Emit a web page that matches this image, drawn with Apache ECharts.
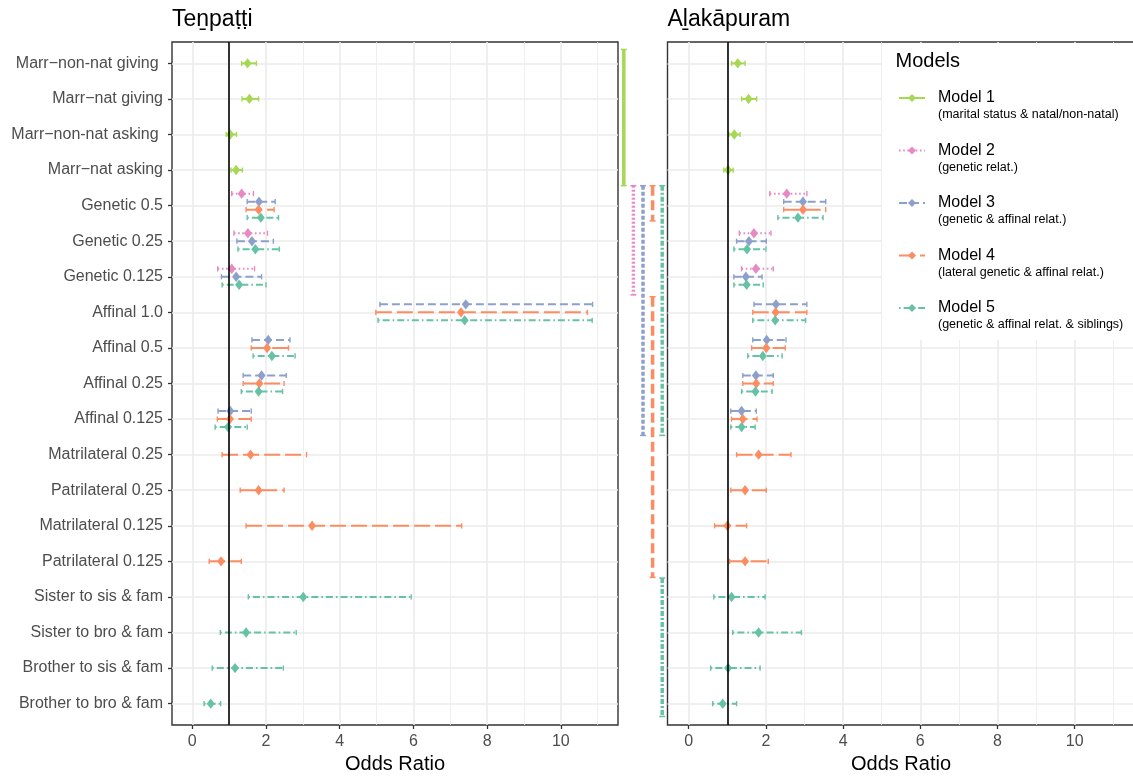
<!DOCTYPE html>
<html><head><meta charset="utf-8">
<script src="https://cdn.jsdelivr.net/npm/echarts@6/dist/echarts.min.js"></script>
<style>html,body{margin:0;padding:0;background:#fff}#c{width:1133px;height:776px}</style>
</head><body><div id="c"></div>
<script>
// ---------- data ----------
const categories = [
  'Marr\u2212non-nat giving ', 'Marr\u2212nat giving', 'Marr\u2212non-nat asking ', 'Marr\u2212nat asking',
  'Genetic 0.5', 'Genetic 0.25', 'Genetic 0.125',
  'Affinal 1.0', 'Affinal 0.5', 'Affinal 0.25', 'Affinal 0.125',
  'Matrilateral 0.25', 'Patrilateral 0.25', 'Matrilateral 0.125', 'Patrilateral 0.125',
  'Sister to sis & fam', 'Sister to bro & fam', 'Brother to sis & fam', 'Brother to bro & fam'
];
const xTicks = [0, 2, 4, 6, 8, 10];
const xMinorTicks = [1, 3, 5, 7, 9, 11];
const panelTitles = ['Te\u1E49pa\u1E6D\u1E6Di', 'A\u1E3Bak\u0101puram'];
const modelNames = ['Model 1', 'Model 2', 'Model 3', 'Model 4', 'Model 5'];
const modelNotes = ['(marital status & natal/non-natal)', '(genetic relat.)', '(genetic & affinal relat.)',
  '(lateral genetic & affinal relat.)', '(genetic & affinal relat. & siblings)'];
const modelColors = ['#A6D854', '#E78AC3', '#8DA0CB', '#FC8D62', '#66C2A5'];

// [row, odds ratio, lower, upper]  -- Tenpatti
const tenM1 = [['Marr\u2212non-nat giving ', 1.50, 1.34, 1.74], ['Marr\u2212nat giving', 1.55, 1.35, 1.80],
  ['Marr\u2212non-nat asking ', 1.03, 0.92, 1.20], ['Marr\u2212nat asking', 1.19, 1.05, 1.36]];
const tenM2 = [['Genetic 0.5', 1.34, 1.07, 1.66], ['Genetic 0.25', 1.51, 1.13, 2.04], ['Genetic 0.125', 1.07, 0.69, 1.69]];
const tenM3 = [['Genetic 0.5', 1.81, 1.49, 2.25], ['Genetic 0.25', 1.62, 1.21, 2.20], ['Genetic 0.125', 1.19, 0.79, 1.88],
  ['Affinal 1.0', 7.42, 5.09, 10.86], ['Affinal 0.5', 2.06, 1.62, 2.65], ['Affinal 0.25', 1.88, 1.38, 2.55],
  ['Affinal 0.125', 1.03, 0.70, 1.60]];
const tenM4 = [['Genetic 0.5', 1.80, 1.46, 2.22], ['Affinal 1.0', 7.29, 4.98, 10.72], ['Affinal 0.5', 2.03, 1.60, 2.61],
  ['Affinal 0.25', 1.82, 1.38, 2.49], ['Affinal 0.125', 1.02, 0.68, 1.60], ['Matrilateral 0.25', 1.58, 0.81, 3.10],
  ['Patrilateral 0.25', 1.80, 1.30, 2.49], ['Matrilateral 0.125', 3.25, 1.46, 7.31], ['Patrilateral 0.125', 0.78, 0.46, 1.33]];
const tenM5 = [['Genetic 0.5', 1.86, 1.49, 2.34], ['Genetic 0.25', 1.71, 1.24, 2.36], ['Genetic 0.125', 1.27, 0.81, 2.00],
  ['Affinal 1.0', 7.39, 5.04, 10.85], ['Affinal 0.5', 2.16, 1.65, 2.79], ['Affinal 0.25', 1.80, 1.33, 2.45],
  ['Affinal 0.125', 0.97, 0.62, 1.49], ['Sister to sis & fam', 3.01, 1.52, 5.94], ['Sister to bro & fam', 1.46, 0.76, 2.82],
  ['Brother to sis & fam', 1.16, 0.54, 2.47], ['Brother to bro & fam', 0.50, 0.32, 0.77]];

// Alakapuram
const alaM1 = [['Marr\u2212non-nat giving ', 1.27, 1.11, 1.46], ['Marr\u2212nat giving', 1.55, 1.37, 1.76],
  ['Marr\u2212non-nat asking ', 1.18, 1.04, 1.33], ['Marr\u2212nat asking', 1.02, 0.91, 1.15]];
const alaM2 = [['Genetic 0.5', 2.54, 2.10, 3.06], ['Genetic 0.25', 1.69, 1.31, 2.13], ['Genetic 0.125', 1.74, 1.37, 2.19]];
const alaM3 = [['Genetic 0.5', 2.96, 2.46, 3.55], ['Genetic 0.25', 1.56, 1.24, 2.01], ['Genetic 0.125', 1.48, 1.17, 1.90],
  ['Affinal 1.0', 2.26, 1.69, 3.06], ['Affinal 0.5', 2.02, 1.66, 2.52], ['Affinal 0.25', 1.74, 1.40, 2.19],
  ['Affinal 0.125', 1.37, 1.09, 1.75]];
const alaM4 = [['Genetic 0.5', 2.96, 2.46, 3.55], ['Affinal 1.0', 2.25, 1.66, 3.06], ['Affinal 0.5', 2.01, 1.63, 2.50],
  ['Affinal 0.25', 1.75, 1.40, 2.19], ['Affinal 0.125', 1.40, 1.11, 1.77], ['Matrilateral 0.25', 1.81, 1.24, 2.65],
  ['Patrilateral 0.25', 1.46, 1.09, 2.01], ['Matrilateral 0.125', 1.00, 0.67, 1.50], ['Patrilateral 0.125', 1.46, 1.06, 2.06]];
const alaM5 = [['Genetic 0.5', 2.83, 2.31, 3.48], ['Genetic 0.25', 1.51, 1.17, 2.00], ['Genetic 0.125', 1.50, 1.17, 1.93],
  ['Affinal 1.0', 2.24, 1.66, 3.03], ['Affinal 0.5', 1.92, 1.53, 2.42], ['Affinal 0.25', 1.73, 1.37, 2.16],
  ['Affinal 0.125', 1.37, 1.09, 1.72], ['Sister to sis & fam', 1.11, 0.65, 1.98], ['Sister to bro & fam', 1.81, 1.14, 2.92],
  ['Brother to sis & fam', 1.02, 0.57, 1.85], ['Brother to bro & fam', 0.88, 0.62, 1.24]];

// brackets between the panels: model index, row span (in row units)
const bracketModel = [0, 1, 2, 3, 3, 4, 4];
const bracketFrom = [-0.39, 3.44, 3.44, 3.44, 6.56, 3.44, 14.47];
const bracketTo = [3.44, 6.51, 10.46, 4.43, 14.45, 10.46, 18.36];

// ---------- styles ----------
const FONT = "'Liberation Sans', Arial, 'DejaVu Sans', sans-serif";
const dashes = [null, [1.6, 2.6], [8, 4], [16, 5], [1.6, 3, 7, 3]];
const barDashes = [null, [2, 2], [4, 2], [10, 4.5], [5, 2, 2, 2]];
const DODGE = 0.225;
const rowTicks = categories.map((c, i) => i);

function dodge(panel) {
  const present = categories.map(() => []);
  panel.forEach((arr, m) => arr.forEach(d => present[categories.indexOf(d[0])].push(m)));
  return panel.map((arr, m) => arr.map(d => {
    const r = categories.indexOf(d[0]);
    const k = present[r].indexOf(m);
    return [d[2], d[3], d[1], r + (k - (present[r].length - 1) / 2) * DODGE];
  }));
}

function errRender(m) {
  return function (params, api) {
    const y = api.value(3);
    const a = api.coord([api.value(0), y]);
    const b = api.coord([api.value(1), y]);
    const e = api.coord([api.value(2), y]);
    const c = modelColors[m];
    const cap = 2.6, dw = 4, dh = 5.2;
    const ls = { stroke: c, lineWidth: 2 };
    if (dashes[m]) ls.lineDash = dashes[m];
    return { type: 'group', children: [
      { type: 'line', shape: { x1: a[0], y1: a[1], x2: b[0], y2: b[1] }, style: ls },
      { type: 'line', shape: { x1: a[0], y1: a[1] - cap, x2: a[0], y2: a[1] + cap }, style: { stroke: c, lineWidth: 1.4 } },
      { type: 'line', shape: { x1: b[0], y1: b[1] - cap, x2: b[0], y2: b[1] + cap }, style: { stroke: c, lineWidth: 1.4 } },
      { type: 'polygon', shape: { points: [[e[0], e[1] - dh], [e[0] + dw, e[1]], [e[0], e[1] + dh], [e[0] - dw, e[1]]] }, style: { fill: c } }
    ] };
  };
}

function bracketRender(params, api) {
  const m = api.value(3);
  const a = api.coord([api.value(0), api.value(1)]);
  const b = api.coord([api.value(0), api.value(2)]);
  const c = modelColors[m];
  const ls = { stroke: c, lineWidth: 3.5 };
  if (barDashes[m]) ls.lineDash = barDashes[m];
  return { type: 'group', children: [
    { type: 'line', shape: { x1: a[0], y1: a[1], x2: b[0], y2: b[1] }, style: ls },
    { type: 'line', shape: { x1: a[0] - 3, y1: a[1], x2: a[0] + 3, y2: a[1] }, style: { stroke: c, lineWidth: 1.5 } },
    { type: 'line', shape: { x1: b[0] - 3, y1: b[1], x2: b[0] + 3, y2: b[1] }, style: { stroke: c, lineWidth: 1.5 } }
  ] };
}

const panels = [dodge([tenM1, tenM2, tenM3, tenM4, tenM5]), dodge([alaM1, alaM2, alaM3, alaM4, alaM5])];

const grids = [
  { left: 172, top: 42, width: 446, height: 683, show: true, borderColor: '#333', borderWidth: 1.4, backgroundColor: 'transparent', outerBoundsMode: 'none', containLabel: false },
  { left: 667.5, top: 42, width: 467, height: 683, show: true, borderColor: '#333', borderWidth: 1.4, backgroundColor: 'transparent', outerBoundsMode: 'none', containLabel: false },
  { left: 619, top: 42, width: 48, height: 683, show: false, outerBoundsMode: 'none', containLabel: false }
];

const xAxes = [], yAxes = [];
[0, 1].forEach(g => {
  xAxes.push({
    type: 'value', gridIndex: g, min: -0.55, max: 11.55, position: 'bottom',
    axisLine: { show: false, onZero: false },
    axisTick: { show: true, customValues: xTicks, length: 4, lineStyle: { color: '#333', width: 1.3 } },
    axisLabel: { customValues: xTicks, color: '#4D4D4D', fontSize: 16, fontFamily: FONT, margin: 9, lineHeight: 16 },
    splitLine: { show: true, lineStyle: { color: '#EBEBEB', width: 1.6 } },
    name: 'Odds Ratio', nameLocation: 'middle', nameGap: 28,
    nameTextStyle: { fontSize: 20, color: '#000', fontFamily: FONT, lineHeight: 20 }
  });
  xAxes.push({
    type: 'value', gridIndex: g, min: -0.55, max: 11.55, position: 'top',
    axisLine: { show: false, onZero: false }, axisLabel: { show: false },
    axisTick: { show: false, customValues: xMinorTicks },
    splitLine: { show: true, lineStyle: { color: '#EBEBEB', width: 0.8 } }
  });
  yAxes.push({
    type: 'value', gridIndex: g, min: -0.6, max: 18.6, inverse: true,
    axisLine: { show: false, onZero: false },
    axisTick: { show: g === 0, customValues: rowTicks, length: 4, lineStyle: { color: '#333', width: 1.3 } },
    axisLabel: { show: g === 0, customValues: rowTicks, formatter: v => categories[v], color: '#4D4D4D', fontSize: 16, fontFamily: FONT, margin: 9 },
    splitLine: { show: true, lineStyle: { color: '#EBEBEB', width: 1.6 } }
  });
});
xAxes.push({ type: 'value', gridIndex: 2, min: 0, max: 5, show: false, axisLine: { onZero: false } });
yAxes.push({ type: 'value', gridIndex: 2, min: -0.6, max: 18.6, inverse: true, show: false, axisLine: { onZero: false } });

const series = [];
modelNames.forEach((n, m) => series.push({
  type: 'line', name: n, data: [], xAxisIndex: 0, yAxisIndex: 0,
  symbol: 'diamond', symbolSize: 8, color: modelColors[m],
  itemStyle: { color: modelColors[m] },
  lineStyle: { color: modelColors[m], width: 2, type: dashes[m] || 'solid' }
}));
[0, 1].forEach(p => {
  series.push({
    type: 'line', data: [], xAxisIndex: p * 2, yAxisIndex: p, z: 1, silent: true,
    markLine: { silent: true, symbol: 'none', label: { show: false },
      lineStyle: { color: '#000', width: 1.6, type: 'solid' }, data: [{ xAxis: 1 }] }
  });
  panels[p].forEach((data, m) => series.push({
    type: 'custom', xAxisIndex: p * 2, yAxisIndex: p, z: 3,
    data: data, encode: { x: [0, 1, 2], y: 3 }, renderItem: errRender(m)
  }));
});
series.push({
  type: 'custom', xAxisIndex: 4, yAxisIndex: 2, z: 3,
  data: bracketModel.map((m, i) => [m + 0.5, bracketFrom[i], bracketTo[i], m]),
  encode: { x: 0, y: [1, 2] }, renderItem: bracketRender
});

const option = {
  animation: false,
  textStyle: { fontFamily: FONT },
  title: [
    { text: panelTitles[0], left: 172, top: 5.5, padding: 0, textStyle: { fontSize: 23, fontWeight: 'normal', color: '#000', fontFamily: FONT, lineHeight: 28 } },
    { text: panelTitles[1], left: 667.5, top: 5.5, padding: 0, textStyle: { fontSize: 23, fontWeight: 'normal', color: '#000', fontFamily: FONT, lineHeight: 28 } },
    { text: 'Models', left: 895.5, top: 49.7, padding: 0, z: 10, textStyle: { fontSize: 20, fontWeight: 'normal', color: '#000', fontFamily: FONT, lineHeight: 24 } }
  ],
  legend: {
    orient: 'vertical', left: 882, top: 43, padding: [33, 30, 8.5, 16],
    backgroundColor: '#fff', itemWidth: 26, itemHeight: 10, itemGap: 7,
    selectedMode: false, data: modelNames,
    formatter: name => {
      const i = modelNames.indexOf(name);
      return '{pad| }\n{a|' + name + '}\n{b|' + modelNotes[i] + '}';
    },
    textStyle: {
      color: '#000', fontFamily: FONT,
      rich: {
        pad: { fontSize: 10, lineHeight: 16 },
        a: { fontSize: 16, lineHeight: 18, padding: [0, 0, 0, 8], color: '#000', fontFamily: FONT },
        b: { fontSize: 12.5, lineHeight: 16, padding: [0, 0, 0, 8], color: '#000', fontFamily: FONT }
      }
    }
  },
  grid: grids, xAxis: xAxes, yAxis: yAxes, series: series
};
echarts.init(document.getElementById('c'), null, { renderer: 'canvas' }).setOption(option);
</script></body></html>
